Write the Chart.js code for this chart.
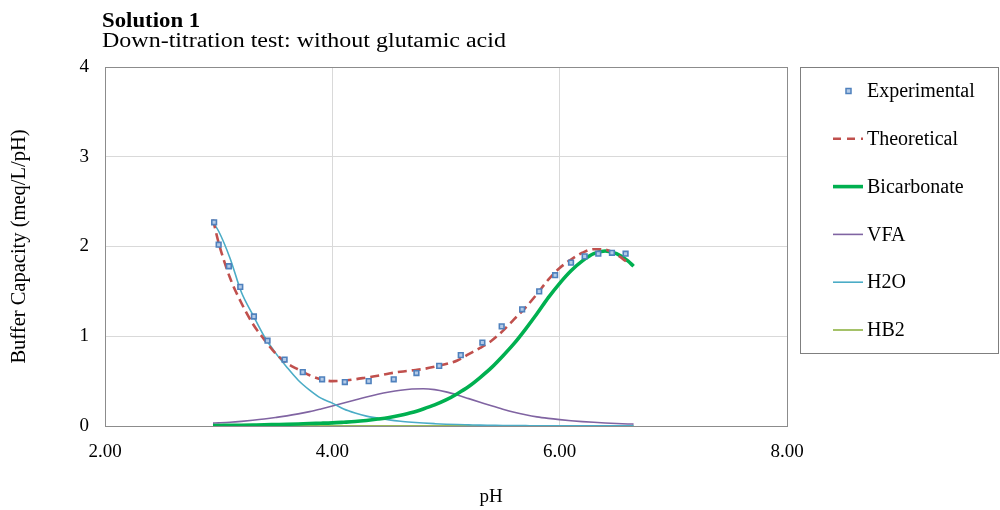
<!DOCTYPE html>
<html>
<head>
<meta charset="utf-8">
<script src="https://cdn.jsdelivr.net/npm/chart.js"></script>
<style>
  body { margin: 0; background: #fff; }
</style>
</head>
<body>
<canvas id="myChart" width="1000" height="510"></canvas>
<script>
// measured points
const expPH = [2.96, 3.00, 3.09, 3.19, 3.31, 3.43, 3.58, 3.74, 3.91, 4.11, 4.32, 4.54, 4.74,
  4.94, 5.13, 5.32, 5.49, 5.67, 5.82, 5.96, 6.10, 6.22, 6.34, 6.46, 6.58];
const expBC = [2.27, 2.02, 1.78, 1.55, 1.22, 0.95, 0.74, 0.60, 0.52, 0.49, 0.50, 0.52, 0.59,
  0.67, 0.79, 0.93, 1.11, 1.30, 1.50, 1.68, 1.82, 1.89, 1.92, 1.93, 1.92];

// model curves, all on the same pH grid
const modelPH = [2.95, 3.0, 3.1, 3.2, 3.3, 3.4, 3.5, 3.6, 3.7, 3.8, 3.9, 4.0, 4.1, 4.2, 4.3,
  4.4, 4.5, 4.6, 4.7, 4.8, 4.9, 5.0, 5.1, 5.2, 5.3, 5.4, 5.5, 5.6, 5.7, 5.8, 5.9, 6.0, 6.1,
  6.2, 6.3, 6.4, 6.5, 6.6, 6.65];
const theoretical = [2.30, 2.04, 1.65, 1.37, 1.14, 0.965, 0.81, 0.70, 0.63, 0.565, 0.52, 0.50,
  0.505, 0.52, 0.54, 0.56, 0.585, 0.605, 0.62, 0.635, 0.66, 0.69, 0.73, 0.80, 0.87, 0.95, 1.06,
  1.19, 1.32, 1.47, 1.63, 1.76, 1.855, 1.93, 1.97, 1.965, 1.91, 1.82, null];
const bicarbonate = [0.005, 0.006, 0.007, 0.009, 0.011, 0.013, 0.016, 0.019, 0.023, 0.028,
  0.031, 0.035, 0.042, 0.05, 0.062, 0.077, 0.095, 0.12, 0.15, 0.19, 0.235, 0.29, 0.36, 0.44,
  0.54, 0.65, 0.78, 0.92, 1.08, 1.25, 1.43, 1.59, 1.73, 1.84, 1.92, 1.95, 1.92, 1.84, 1.78];
const vfa = [0.032, 0.035, 0.042, 0.052, 0.064, 0.078, 0.095, 0.113, 0.135, 0.16, 0.19, 0.222,
  0.256, 0.29, 0.323, 0.353, 0.378, 0.398, 0.412, 0.415, 0.405, 0.38, 0.345, 0.305, 0.265,
  0.225, 0.187, 0.153, 0.125, 0.102, 0.085, 0.071, 0.059, 0.049, 0.041, 0.034, 0.028, 0.023,
  0.021];
const h2o = [2.27, 2.17, 1.87, 1.49, 1.24, 1.00, 0.815, 0.655, 0.51, 0.40, 0.31, 0.255, 0.19,
  0.145, 0.11, 0.088, 0.068, 0.053, 0.042, 0.033, 0.026, 0.02, 0.016, 0.013, 0.01, 0.008,
  0.006, 0.005, 0.004, 0.003, 0.003, 0.002, 0.002, 0.001, 0.001, 0.001, 0.001, 0.001, 0.001];
const hb2 = [0.003, 0.003, 0.003, 0.002, 0.002, 0.002, 0.002, 0.002, 0.002, 0.001, 0.001,
  0.001, 0.001, 0.001, 0.001, 0.001, 0.001, 0.001, 0.001, 0.001, 0.001, 0.001, 0.001, 0.001,
  0.001, 0.001, 0.001, 0.001, 0.001, 0.001, 0.001, 0.001, 0.001, 0.001, 0.001, 0.001, 0.001,
  0.001, 0.001];

const xTicks = [2, 4, 6, 8];
const yTicks = [0, 1, 2, 3, 4];

const SERIF = '"Liberation Serif", "DejaVu Serif", serif';

function pairs(xs, ys) {
  return xs.map((x, i) => ({ x: x, y: ys[i] }));
}

function curve(label, ys, color, width, order, dash) {
  return {
    type: 'line',
    label: label,
    data: pairs(modelPH, ys),
    borderColor: color,
    backgroundColor: color,
    borderWidth: width,
    borderDash: dash || [],
    pointRadius: 0,
    cubicInterpolationMode: 'monotone',
    spanGaps: false,
    order: order
  };
}

// text drawn a little wider than the plain serif face
function wideText(ctx, text, x, y, stretch) {
  ctx.save();
  ctx.translate(x, y);
  ctx.scale(stretch, 1);
  ctx.fillText(text, 0, 0);
  ctx.restore();
}

// frame, titles and legend box drawn straight onto the canvas
const decorations = {
  id: 'decorations',
  beforeDatasetsDraw(chart) {
    const { ctx, chartArea: a } = chart;
    ctx.save();
    ctx.strokeStyle = '#8c8c8c';
    ctx.lineWidth = 1;
    ctx.strokeRect(Math.round(a.left) + 0.5, Math.round(a.top) + 0.5,
      Math.round(a.right - a.left), Math.round(a.bottom - a.top));
    ctx.restore();
  },
  afterDraw(chart) {
    const { ctx, chartArea: a } = chart;
    ctx.save();
    ctx.fillStyle = '#000';
    ctx.textAlign = 'left';
    ctx.textBaseline = 'alphabetic';
    ctx.font = 'bold 20px ' + SERIF;
    wideText(ctx, 'Solution 1', 102, 27, 1.14);
    ctx.font = '20px ' + SERIF;
    wideText(ctx, 'Down-titration test: without glutamic acid', 102, 47, 1.2);

    // axis titles
    ctx.font = '19px ' + SERIF;
    ctx.textAlign = 'center';
    ctx.textBaseline = 'middle';
    ctx.fillText('pH', 491, 497);
    ctx.font = '20.5px ' + SERIF;
    ctx.translate(20, (a.top + a.bottom) / 2);
    ctx.rotate(-Math.PI / 2);
    ctx.fillText('Buffer Capacity (meq/L/pH)', 0, 0);
    ctx.restore();

    // legend
    ctx.save();
    ctx.strokeStyle = '#7f7f7f';
    ctx.lineWidth = 1;
    ctx.strokeRect(800.5, 67.5, 198, 286);
    ctx.font = '20px ' + SERIF;
    ctx.textAlign = 'left';
    ctx.textBaseline = 'middle';
    const sets = chart.data.datasets;
    sets.forEach((ds, i) => {
      const y = 91 + i * 47.8;
      if (ds.type === 'scatter') {
        ctx.fillStyle = ds.backgroundColor;
        ctx.strokeStyle = ds.borderColor;
        ctx.lineWidth = 1.5;
        ctx.fillRect(846, y - 2.5, 5, 5);
        ctx.strokeRect(846, y - 2.5, 5, 5);
      } else {
        ctx.strokeStyle = ds.borderColor;
        ctx.lineWidth = ds.borderWidth;
        ctx.setLineDash(ds.borderDash.length ? [8, 6] : []);
        ctx.beginPath();
        ctx.moveTo(833, y);
        ctx.lineTo(863, y);
        ctx.stroke();
        ctx.setLineDash([]);
      }
      ctx.fillStyle = '#000';
      ctx.fillText(ds.label, 867, y + 1);
    });
    ctx.restore();
  }
};

new Chart(document.getElementById('myChart'), {
  type: 'scatter',
  data: {
    datasets: [
      {
        type: 'scatter',
        label: 'Experimental',
        data: pairs(expPH, expBC),
        pointStyle: 'rect',
        pointRadius: 3.3,
        borderWidth: 1.6,
        borderColor: '#4f81bd',
        backgroundColor: '#b4cbe8',
        order: 0
      },
      curve('Theoretical', theoretical, '#c0504d', 2.6, 1, [9, 5]),
      curve('Bicarbonate', bicarbonate, '#00b050', 3.6, 2),
      curve('VFA', vfa, '#8064a2', 1.6, 4),
      curve('H2O', h2o, '#4bacc6', 1.6, 3),
      curve('HB2', hb2, '#9bbb59', 1.8, 5)
    ]
  },
  options: {
    responsive: false,
    animation: false,
    layout: { padding: { top: 67, right: 213, left: 0, bottom: 0 } },
    plugins: {
      legend: { display: false },
      tooltip: { enabled: false }
    },
    scales: {
      x: {
        type: 'linear',
        min: 2,
        max: 8,
        afterFit(scale) { scale.height = 84; },
        afterBuildTicks(scale) { scale.ticks = xTicks.map(v => ({ value: v })); },
        grid: {
          color: ctx => (ctx.tick.value === 2 || ctx.tick.value === 8) ? 'rgba(0,0,0,0)' : '#d9d9d9',
          drawTicks: false
        },
        border: { display: false },
        ticks: {
          padding: 15,
          color: '#000',
          font: { family: SERIF, size: 19 },
          callback: v => v.toFixed(2)
        }
      },
      y: {
        min: 0,
        max: 4,
        afterFit(scale) { scale.width = 105; },
        afterBuildTicks(scale) { scale.ticks = yTicks.map(v => ({ value: v })); },
        grid: {
          color: ctx => (ctx.tick.value === 0 || ctx.tick.value === 4) ? 'rgba(0,0,0,0)' : '#d9d9d9',
          drawTicks: false
        },
        border: { display: false },
        ticks: {
          padding: 16,
          color: '#000',
          font: { family: SERIF, size: 19 }
        }
      }
    }
  },
  plugins: [decorations]
});
</script>
</body>
</html>
